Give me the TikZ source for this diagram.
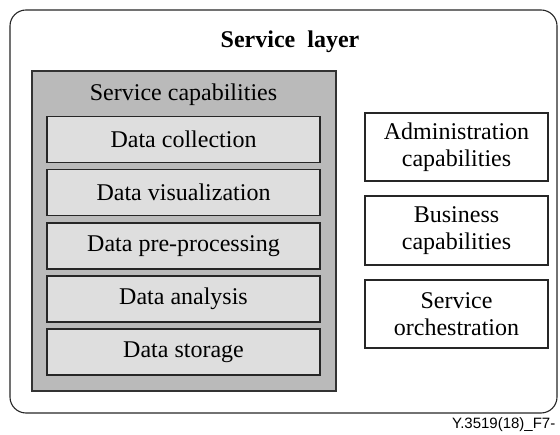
\documentclass[tikz,border=0pt]{standalone}
\usepackage{fontspec}
\setmainfont{Liberation Serif}
\setsansfont{Liberation Sans}
\begin{document}
\begin{tikzpicture}[x=1pt,y=-1pt,
  txt/.style={font=\fontsize{24}{27}\selectfont, align=center, inner sep=0pt},
  foottxt/.style={font=\sffamily\fontsize{15}{17}\selectfont, inner sep=0pt},
  outerbox/.style={draw=black!85, line width=1.1pt, rounded corners=16pt, inner sep=0pt},
  graybox/.style={draw=black!80, line width=1.2pt, fill=black!27, inner sep=0pt},
  databox/.style={txt, draw=black!85, line width=1.3pt, fill=black!13, minimum width=273pt, minimum height=46pt},
  sidebox/.style={txt, draw=black!85, line width=1.3pt, fill=white, minimum width=183pt, minimum height=68pt}]
\useasboundingbox (0,0) rectangle (560,435);
\node[outerbox, minimum width=547pt, minimum height=403pt] (outer) at (283.5,211.5) {};
\node[txt, font=\fontsize{24}{27}\selectfont\bfseries] (title) at (290,42) {Service\ \ layer};
\node[graybox, minimum width=304pt, minimum height=320pt] (cap) at (184,231) {};
\node[txt] (captitle) at (183.5,95) {Service capabilities};
\node[databox] (coll) at (183.5,139.5) {Data collection};
\node[databox] (vis) at (183.5,192.5) {Data visualization};
\node[databox] (pre) at (183.5,246) {Data pre-processing};
\node[databox] (ana) at (183.5,299) {Data analysis};
\node[databox] (sto) at (183.5,352) {Data storage};
\node[sidebox] (adm) at (456.5,147) {Administration\\capabilities};
\node[sidebox, minimum height=69pt] (bus) at (456.5,230.5) {Business\\capabilities};
\node[sidebox] (orch) at (456.5,314) {Service\\orchestration};
\node[foottxt, anchor=west] (foot) at (452,425) {Y.3519(18)\_F7-};
\end{tikzpicture}
\end{document}
